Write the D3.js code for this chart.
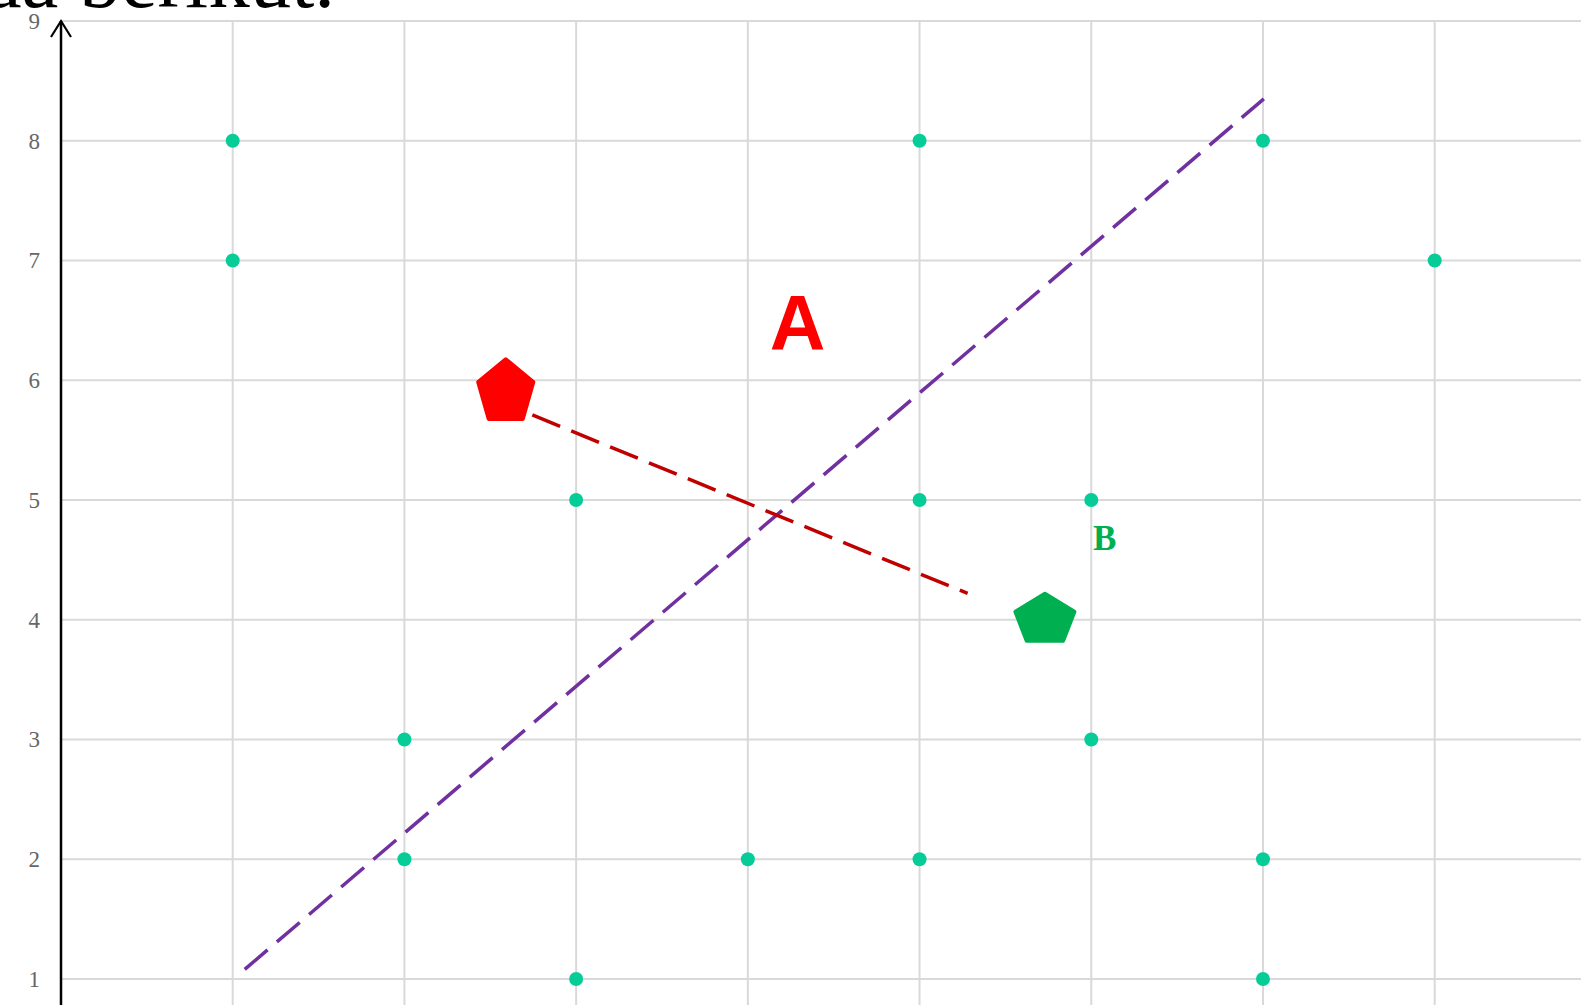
<!DOCTYPE html>
<html>
<head>
<meta charset="utf-8">
<script src="https://cdn.jsdelivr.net/npm/d3@7/dist/d3.min.js"></script>
<style>
html,body{margin:0;padding:0;background:#fff;overflow:hidden;}
svg{display:block;}
</style>
</head>
<body>
<svg id="chart" width="1581" height="1005"></svg>
<script>
// ---- data ----
const titleText = "Perhatikan gambar pada berikut.";
const yTicks = [1,2,3,4,5,6,7,8,9];
const xGrid = [1,2,3,4,5,6,7,8];
const dotsX = [1,1,2,2,3,3,4,5,5,5,6,6,7,7,7,8];
const dotsY = [8,7,3,2,5,1,2,8,5,2,5,3,8,2,1,7];
const purpleLineX = [1.07, 7.005];
const purpleLineY = [1.08, 8.35];
const redLineX = [2.745, 5.28];
const redLineY = [5.71, 4.22];
const pentagonNames = ["red", "green"];
const pentagonX = [2.59, 5.73];
const pentagonY = [5.9, 4.0];
const labelText = ["A", "B"];
const labelX = [4.29, 6.01];
const labelY = [6.25, 4.58];

// ---- scales ----
const svg = d3.select("#chart");
const x = d3.scaleLinear().domain([0, 8.852]).range([61, 1581]);
const y = d3.scaleLinear().domain([1, 9]).range([979, 21]);

// grid
const grid = svg.append("g");
grid.selectAll("line.v").data(xGrid).join("line")
  .attr("x1", d => x(d)).attr("x2", d => x(d))
  .attr("y1", y(9)).attr("y2", 1005)
  .attr("stroke", "#d9d9d9").attr("stroke-width", 2);
grid.selectAll("line.h").data(yTicks).join("line")
  .attr("x1", x(0)).attr("x2", 1581)
  .attr("y1", d => y(d)).attr("y2", d => y(d))
  .attr("stroke", "#d9d9d9").attr("stroke-width", 2);

// y axis via d3
const yAxis = d3.axisLeft(y).tickValues(yTicks).tickSize(0).tickPadding(21).tickFormat(d3.format("d"));
const ax = svg.append("g").attr("transform", `translate(${x(0)},0)`).call(yAxis);
ax.select(".domain").remove();
ax.selectAll("text").attr("font-family", "'Liberation Serif', serif").attr("font-size", 23).attr("fill", "#666");
// axis line + arrow
svg.append("line").attr("x1", x(0)).attr("x2", x(0)).attr("y1", y(9)).attr("y2", 1005)
  .attr("stroke", "#000").attr("stroke-width", 2.5);
svg.append("path")
  .attr("d", `M${x(0)-10},${y(9)+16} L${x(0)},${y(9)} L${x(0)+10},${y(9)+16}`)
  .attr("fill", "none").attr("stroke", "#000").attr("stroke-width", 2.2);

// title (cut off at top)
svg.append("text").attr("x", 335).attr("y", 7).attr("text-anchor", "end")
  .attr("font-family", "'Liberation Serif', serif").attr("font-size", 83).attr("fill", "#000")
  .text(titleText);

// dashed lines
const line = d3.line().x(d => x(d[0])).y(d => y(d[1]));
svg.append("path").datum(d3.zip(purpleLineX, purpleLineY)).attr("d", line)
  .attr("fill", "none").attr("stroke", "#7030a0").attr("stroke-width", 3.5)
  .attr("stroke-dasharray", "30 12.3");
svg.append("path").datum(d3.zip(redLineX, redLineY)).attr("d", line)
  .attr("fill", "none").attr("stroke", "#c00000").attr("stroke-width", 3.5)
  .attr("stroke-dasharray", "30 12");

// dots
svg.append("g").selectAll("circle").data(d3.zip(dotsX, dotsY)).join("circle")
  .attr("cx", d => x(d[0])).attr("cy", d => y(d[1])).attr("r", 7)
  .attr("fill", "#06cc98");

// pentagons
const pentStyle = {
  red: {fill: "#ff0000", rx: 29, ry: 33},
  green: {fill: "#00b050", rx: 31, ry: 26}
};
function pentPath(cx, cy, rx, ry) {
  const pts = d3.range(5).map(i => {
    const a = -Math.PI / 2 + i * 2 * Math.PI / 5;
    return [cx + rx * Math.cos(a), cy + ry * Math.sin(a)];
  });
  return "M" + pts.map(p => p.join(",")).join("L") + "Z";
}
pentagonNames.forEach((n, i) => {
  const s = pentStyle[n];
  svg.append("path").attr("d", pentPath(x(pentagonX[i]), y(pentagonY[i]), s.rx, s.ry))
    .attr("fill", s.fill).attr("stroke", s.fill).attr("stroke-width", 4).attr("stroke-linejoin", "round");
});

// labels
svg.append("text").attr("x", x(labelX[0])).attr("y", y(labelY[0])).attr("text-anchor", "middle")
  .attr("font-family", "'Liberation Sans', Arial, sans-serif").attr("font-weight", "bold")
  .attr("font-size", 77).attr("fill", "#ff0000").text(labelText[0]);
svg.append("text").attr("x", x(labelX[1])).attr("y", y(labelY[1])).attr("text-anchor", "start")
  .attr("font-family", "'Liberation Serif', serif").attr("font-weight", "bold")
  .attr("font-size", 35).attr("fill", "#00b050").text(labelText[1]);
</script>
</body>
</html>
